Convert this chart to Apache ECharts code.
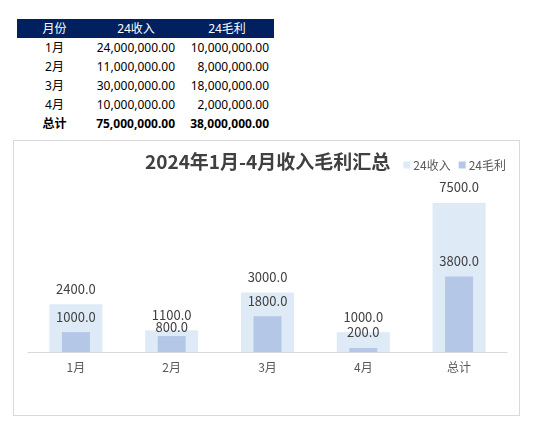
<!DOCTYPE html>
<html>
<head>
<meta charset="utf-8">
<script src="https://cdn.jsdelivr.net/npm/echarts@6/dist/echarts.min.js"></script>
<style>
html,body{margin:0;padding:0;background:#fff;width:539px;height:430px;overflow:hidden;}
#tbl{position:absolute;left:17px;top:19px;border-collapse:collapse;font-family:"Noto Sans","Noto Sans CJK SC",sans-serif;font-size:12px;color:#000;}
#tbl td,#tbl th{height:19px;padding:0;line-height:19px;}
#tbl th{background:#002060;color:#fff;font-weight:normal;text-align:center;}
#tbl td.m{text-align:center;}
#tbl td.n{text-align:right;padding-right:5px;}
#tbl tr.tot td{font-weight:bold;}
#box{position:absolute;left:13px;top:140px;width:507px;height:276px;box-sizing:border-box;border:1px solid #d9d9d9;}
#chart{width:505px;height:274px;}
</style>
</head>
<body>
<table id="tbl"></table>
<div id="box"><div id="chart"></div></div>
<script>
// data (values in 万元)
var categories = ['1月', '2月', '3月', '4月', '总计'];
var revenue = [2400, 1100, 3000, 1000, 7500];
var profit = [1000, 800, 1800, 200, 3800];
var headers = ['月份', '24收入', '24毛利'];
var seriesNames = ['24收入', '24毛利'];
var titleText = '2024年1月-4月收入毛利汇总';

// table
function fmtMoney(v) {
  return (v * 10000).toLocaleString('en-US', {minimumFractionDigits: 2, maximumFractionDigits: 2});
}
var tbl = document.getElementById('tbl');
var html = '<colgroup><col style="width:75px"><col style="width:88px"><col style="width:94px"></colgroup>';
html += '<tr>' + headers.map(function (h) { return '<th>' + h + '</th>'; }).join('') + '</tr>';
categories.forEach(function (c, i) {
  var cls = (i === categories.length - 1) ? ' class="tot"' : '';
  html += '<tr' + cls + '><td class="m">' + c + '</td><td class="n">' + fmtMoney(revenue[i]) +
    '</td><td class="n">' + fmtMoney(profit[i]) + '</td></tr>';
});
tbl.innerHTML = html;

// chart
var chart = echarts.init(document.getElementById('chart'));
var font = '"Noto Sans CJK SC", "Noto Sans", sans-serif';
var labelBase = {
  show: true, position: 'top', distance: 9, color: '#404040', fontSize: 13, fontFamily: font,
  formatter: function (p) { return Number(p.value).toFixed(1); }
};
var profitData = profit.map(function (v, i) {
  return i === 1 ? {value: v, label: {distance: 3}} : v;
});
chart.setOption({
  animation: false,
  title: {
    text: titleText, left: 126, top: 6,
    textStyle: {fontSize: 19, fontWeight: 'bold', color: '#404040', fontFamily: font}
  },
  legend: {
    right: 8, top: 13, itemWidth: 7, itemHeight: 7, itemGap: 8, icon: 'rect',
    textStyle: {fontSize: 12, color: '#595959', fontFamily: font, padding: [0, 0, 0, -2]},
    data: seriesNames
  },
  grid: {left: 14, right: 12, top: 52, bottom: 63},
  xAxis: [{
    type: 'category', data: categories,
    axisLine: {lineStyle: {color: '#d9d9d9'}}, axisTick: {show: false},
    axisLabel: {color: '#595959', fontSize: 12, margin: 9, fontFamily: font}
  }, {
    type: 'category', data: categories, show: false
  }],
  yAxis: {type: 'value', min: 0, max: 8000, show: false, splitLine: {show: false}},
  series: [{
    name: seriesNames[0], type: 'bar', xAxisIndex: 0, barWidth: 53,
    itemStyle: {color: '#DEEBF7'}, label: labelBase, data: revenue, z: 1
  }, {
    name: seriesNames[1], type: 'bar', xAxisIndex: 1, barWidth: 28,
    itemStyle: {color: '#B4C7E7'}, label: labelBase, data: profitData, z: 2
  }]
});
</script>
</body>
</html>
